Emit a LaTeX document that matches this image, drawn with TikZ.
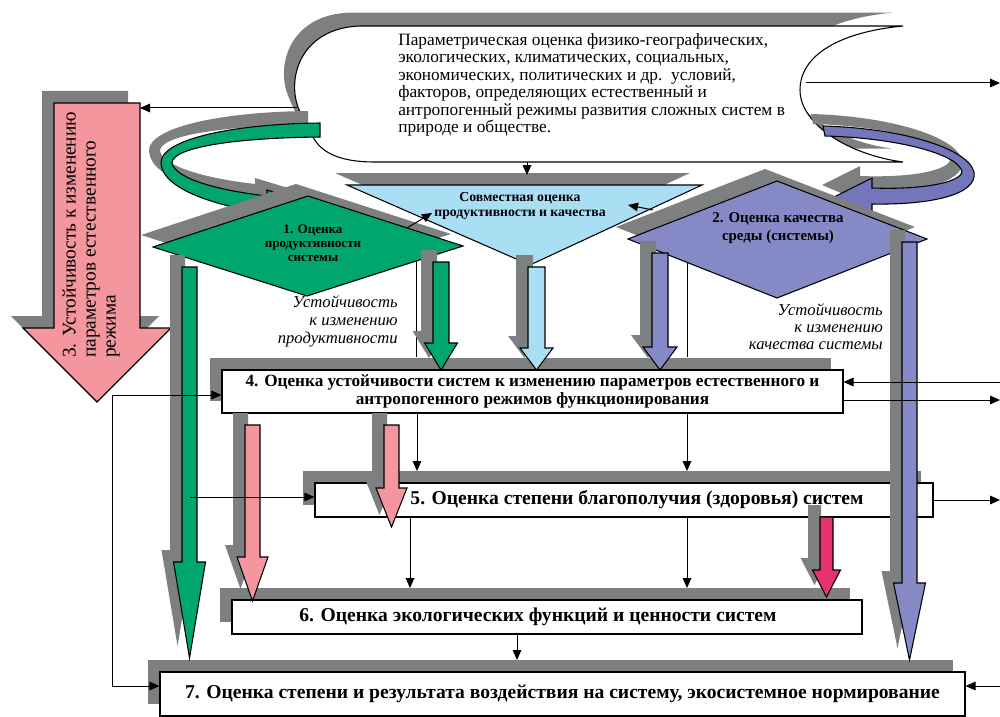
\documentclass[tikz,border=0pt]{standalone}
\usepackage{fontspec}
\setmainfont{Liberation Serif}
\usetikzlibrary{arrows.meta,shadows}

\definecolor{shgrey}{RGB}{125,127,129}
\definecolor{pinkfill}{RGB}{244,150,158}
\definecolor{greenfill}{RGB}{0,166,110}
\definecolor{bluefill}{RGB}{170,222,243}
\definecolor{purplefill}{RGB}{133,137,198}
\definecolor{ribbonpurple}{RGB}{115,118,186}
\definecolor{crimsonfill}{RGB}{230,50,110}

\tikzset{
  shadowed/.style={drop shadow={shadow xshift=-9pt,shadow yshift=9pt,opacity=1,fill=shgrey}},
  outlined/.style={draw,line width=0.8pt,shadowed},
  box/.style={draw,line width=0.8pt,fill=white,shadowed,inner sep=0pt,align=center,
    font=\bfseries\fontsize{14.7}{15}\selectfont},
  link/.style={line width=0.75pt,-{Triangle[length=7.5pt,width=6.5pt]}},
}

% fat arrow: x, shaft half width, top, head start, head half width, tip, colour
\newcommand{\fatarrow}[7]{%
  \filldraw[outlined,fill=#7] (#1-#2,#3) -- (#1+#2,#3) -- (#1+#2,#4) -- (#1+#5,#4)
    -- (#1,#6) -- (#1-#5,#4) -- (#1-#2,#4) -- cycle;}

\begin{document}
\begin{tikzpicture}[x=0.75pt,y=-0.75pt]
  \useasboundingbox (0,0) rectangle (1000,717);

  % Parametric assessment (scroll)
  \filldraw[line width=0.8pt,fill=white,
    drop shadow={shadow xshift=-8pt,shadow yshift=10pt,opacity=1,fill=shgrey}]
    (903,26) -- (360,26) .. controls (300,28) and (285,80) .. (300,112)
    .. controls (304,122) and (308,130) .. (313,137)
    .. controls (320,150) and (335,162) .. (375,162) -- (903,162)
    .. controls (850,155) and (800,125) .. (800,90)
    .. controls (800,55) and (840,32) .. (903,26) -- cycle;
  \node[anchor=north west,inner sep=0pt,align=left,font=\fontsize{13}{13.1}\selectfont]
    (paramtext) at (398,33) {Параметрическая оценка физико-географических,\\
    экологических, климатических, социальных,\\
    экономических, политических и др.\ \ условий,\\
    факторов, определяющих естественный и\\
    антропогенный режимы развития сложных систем в\\
    природе и обществе.};

  % 3. Stability to natural regime
  \fatarrow{97}{43}{103}{328}{74}{402}{pinkfill}
  \node[rotate=90,anchor=north west,inner sep=0pt,align=left,font=\fontsize{14.5}{15}\selectfont]
    (stabnat) at (62,358) {3. Устойчивость к изменению\\параметров естественного\\режима};

  % Green ribbon
  \filldraw[outlined,fill=greenfill]
    (320,123) .. controls (230,124) and (160,140) .. (161,163)
    .. controls (162,190) and (220,207) .. (267,213) -- (267,219) -- (320,206)
    -- (267,190) -- (267,196) .. controls (215,190) and (175,178) .. (172,163)
    .. controls (172,148) and (230,138) .. (320,137) -- cycle;

  % Purple ribbon
  \filldraw[outlined,fill=ribbonpurple]
    (823,126) .. controls (900,128) and (968,148) .. (974,172)
    .. controls (978,195) and (930,205) .. (872,204) -- (872,213) -- (834,197)
    -- (872,178) -- (872,188) .. controls (925,190) and (960,182) .. (962,172)
    .. controls (960,155) and (900,138) .. (825,136) -- cycle;

  % Joint assessment
  \filldraw[outlined,fill=bluefill] (347,185) -- (702,185) -- (530,265) -- cycle;
  \node[font=\bfseries\fontsize{10.3}{11.5}\selectfont,align=center]
    (jointtext) at (520,206) {Совместная оценка\\продуктивности и качества};

  % 1. Productivity
  \filldraw[outlined,fill=greenfill] (153,247) -- (308,196) -- (463,246) -- (307,296) -- cycle;
  \node[font=\bfseries\fontsize{9.8}{10.5}\selectfont,align=center]
    (prodtext) at (313,243) {1. Оценка\\продуктивности\\системы};

  % 2. Quality
  \filldraw[outlined,fill=purplefill] (628,239) -- (777,181) -- (927,239) -- (777,298) -- cycle;
  \node[font=\bfseries\fontsize{11.2}{14}\selectfont,align=center]
    (qualtext) at (778,228) {2. Оценка качества\\среды (системы)};

  % Boxes
  \node[box,minimum width=465.75pt,minimum height=32.25pt,
    font=\bfseries\fontsize{12.9}{13.5}\selectfont] (box4) at (532.5,391.5)
    {4. Оценка устойчивости систем к изменению параметров естественного и\\
    антропогенного режимов функционирования};
  \node[box,minimum width=463.5pt,minimum height=25.5pt] (box5) at (624,500)
    {\hspace*{19.5pt}5. Оценка степени благополучия (здоровья) систем};
  \node[box,minimum width=472.5pt,minimum height=25.5pt] (box6) at (547,617)
    {6. Оценка экологических функций и ценности систем\hspace*{13.5pt}};
  \node[box,minimum width=603.75pt,minimum height=33pt] (box7) at (562.5,694)
    {7. Оценка степени и результата воздействия на систему, экосистемное нормирование};

  % Thin lines under diamonds
  \coordinate (prodS) at (416,261);
  \coordinate (qualS) at (687,262);
  \coordinate (top4) at (0,357);
  \draw[line width=0.75pt] (prodS) -- (prodS |- top4);
  \draw[line width=0.75pt] (qualS) -- (qualS |- top4);

  % Fat arrows
  \fatarrow{189.5}{7.5}{267}{562}{16}{658}{greenfill}
  \fatarrow{441}{8}{262}{343}{16.5}{370}{greenfill}
  \fatarrow{536.5}{8.5}{267}{348}{16.5}{370}{bluefill}
  \fatarrow{660}{8}{253}{347}{17}{370}{purplefill}
  \fatarrow{909.5}{7.5}{242}{583}{16}{660}{purplefill}
  \fatarrow{252.5}{7.5}{425}{557}{15.5}{601}{pinkfill}
  \fatarrow{391.5}{7.5}{425}{488}{15.5}{527}{pinkfill}
  \fatarrow{826.5}{6.5}{517}{570}{14}{597}{crimsonfill}

  % Stability labels
  \node[anchor=north east,inner sep=0pt,align=right,font=\itshape\fontsize{12.5}{13.5}\selectfont]
    (stabprod) at (398,295) {Устойчивость\\к изменению\\продуктивности};
  \node[anchor=north east,inner sep=0pt,align=right,font=\itshape\fontsize{12.5}{13}\selectfont]
    (stabqual) at (883,303) {Устойчивость\\к изменению\\качества системы};

  % Connectors
  \coordinate (scrollS) at (527,162);
  \coordinate (jointN) at (527,175);
  \coordinate (scrollW) at (297,108);
  \coordinate (pinkE) at (140,108);
  \coordinate (scrollE) at (806,83);
  \coordinate (outA) at (1000,83);
  \coordinate (prodE) at (407,228);
  \coordinate (jointW) at (432,213);
  \coordinate (qualW) at (653,210);
  \coordinate (jointE) at (628,205);
  \coordinate (pinkout) at (112,395);
  \coordinate (inB) at (1000,382);
  \coordinate (outB) at (1000,400);
  \coordinate (colA) at (417,0);
  \coordinate (colB) at (687,0);
  \coordinate (colC) at (410,0);
  \coordinate (colD) at (517,0);
  \coordinate (top5) at (0,471);
  \coordinate (top6) at (0,588);
  \coordinate (top7) at (0,660);
  \coordinate (greenout) at (190,497);
  \coordinate (outC) at (1000,500);
  \coordinate (inD) at (1000,686);

  \draw[link] (scrollS) -- (jointN);
  \draw[link] (scrollW) -- (pinkE);
  \draw[link] (scrollE) -- (outA);
  \draw[link] (prodE) -- (jointW);
  \draw[link] (qualW) -- (jointE);
  \draw[link] (pinkout) -- (pinkout -| box4.west);
  \draw[link] (pinkout) |- (inD -| box7.west);
  \draw[link] (inB) -- (inB -| box4.east);
  \draw[link] (outB -| box4.east) -- (outB);
  \draw[link] (box4.south -| colA) -- (colA |- top5);
  \draw[link] (box4.south -| colB) -- (colB |- top5);
  \draw[link] (greenout) -- (greenout -| box5.west);
  \draw[link] (box5.east) -- (outC);
  \draw[link] (box5.south -| colC) -- (colC |- top6);
  \draw[link] (box5.south -| colB) -- (colB |- top6);
  \draw[link] (box6.south -| colD) -- (colD |- top7);
  \draw[link] (inD) -- (inD -| box7.east);
\end{tikzpicture}
\end{document}
